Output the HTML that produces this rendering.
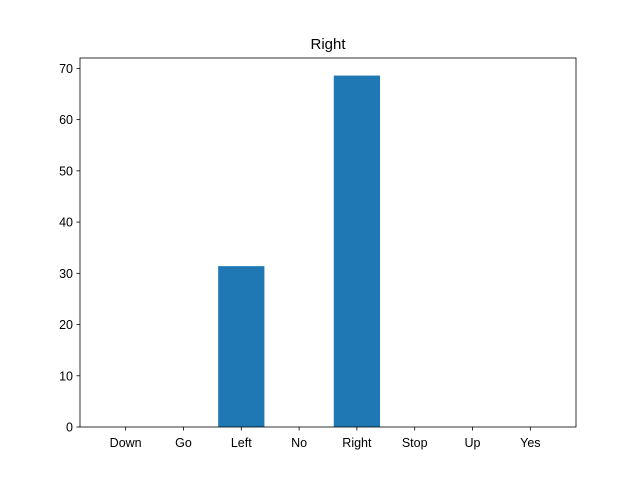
<!DOCTYPE html>
<html><head><meta charset="utf-8"><style>
html,body{margin:0;padding:0;background:#fff;}
svg{display:block;font-family:"Liberation Sans","DejaVu Sans",sans-serif;}
</style></head><body>
<svg id="chart" width="640" height="480"></svg>
<script>
const categories = ["Down","Go","Left","No","Right","Stop","Up","Yes"];
const values = [0,0,31.4,0,68.6,0,0,0];
const yTicks = [0,10,20,30,40,50,60,70];
const chartTitle = "Right";

const svg = document.getElementById('chart');
const NS = 'http://www.w3.org/2000/svg';
const L=80,R=576,T=58,B=427;
const maxV = Math.max(...values);
const yMax = maxV*1.05 || 1;
const xMin = -0.4 - 0.39, xMax = categories.length - 1 + 0.4 + 0.39;
const xS = v => L + (v - xMin)/(xMax - xMin)*(R-L);
const yS = v => B - v/yMax*(B-T);
function mk(tag, attrs){const e=document.createElementNS(NS,tag);for(const k in attrs)e.setAttribute(k,attrs[k]);svg.appendChild(e);return e;}

const bg = mk('rect',{x:0,y:0,width:640,height:480,fill:'#fff'});



values.forEach((v,i)=>{
  const x0=xS(i-0.4), x1=xS(i+0.4);
  const b=mk('rect',{x:x0,y:yS(v),width:x1-x0,height:B-yS(v),fill:'#1f77b4'});
  
  
});

const frame=mk('rect',{x:L,y:T,width:R-L,height:B-T,fill:'none',stroke:'#000','stroke-width':0.8});



categories.forEach((c,i)=>{
  const x=xS(i);
  const t=mk('line',{x1:x,x2:x,y1:B,y2:B+3.5,stroke:'#000','stroke-width':0.8});
  
  
  const lb=mk('text',{x:x,y:B+20,'text-anchor':'middle','font-size':12.5,fill:'#000'});
  lb.textContent=c;
  
  
});

yTicks.forEach(v=>{
  const y=yS(v);
  const t=mk('line',{x1:L-3.5,x2:L,y1:y,y2:y,stroke:'#000','stroke-width':0.8});
  
  
  const lb=mk('text',{x:L-7,y:y+4.5,'text-anchor':'end','font-size':12.5,fill:'#000'});
  lb.textContent=v;
  
  
});

const ti=mk('text',{x:(L+R)/2,y:T-9,'text-anchor':'middle','font-size':15,fill:'#000'});
ti.textContent=chartTitle;


</script>
</body></html>
